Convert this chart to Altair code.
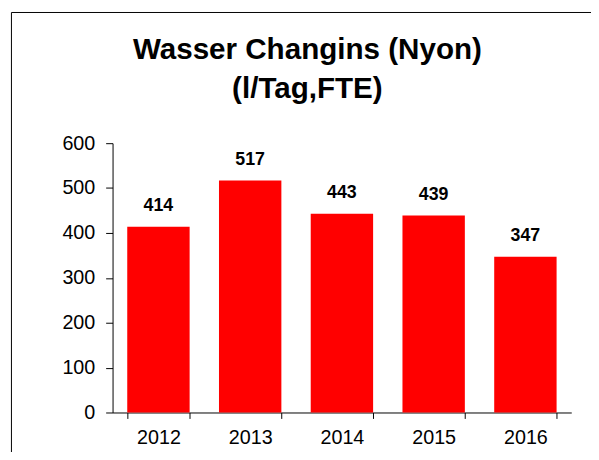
import altair as alt
import pandas as pd

years = ["2012", "2013", "2014", "2015", "2016"]
values = [414, 517, 443, 439, 347]
y_ticks = [0, 100, 200, 300, 400, 500, 600]
title_lines = ["Wasser Changins (Nyon)", "(l/Tag,FTE)"]

df = pd.DataFrame({"year": years, "value": values})
FONT = "Liberation Sans"

x = alt.X(
    "year:N", sort=years, title=None,
    scale=alt.Scale(paddingInner=0.32, paddingOuter=0.16),
    axis=alt.Axis(labelAngle=0, tickBand="extent", tickSize=6, labelFontSize=20,
                  labelFont=FONT, labelColor="black", domainColor="black",
                  tickColor="black", labelPadding=9, domainWidth=1, tickWidth=1),
)
y = alt.Y(
    "value:Q", title=None,
    scale=alt.Scale(domain=[0, 600], nice=False),
    axis=alt.Axis(values=y_ticks, grid=False, tickSize=7, labelPadding=11,
                  labelFontSize=20, labelFont=FONT, labelColor="black",
                  domainColor="black", tickColor="black", domainWidth=1, tickWidth=1),
)

bars = alt.Chart(df).mark_bar(color="#FF0000").encode(x=x, y=y)
labels = alt.Chart(df).mark_text(
    dy=-16, baseline="alphabetic", fontWeight="bold", fontSize=18, font=FONT, color="black"
).encode(x=x, y=y, text="value:Q")

frame_df = pd.DataFrame({"k": [0]})
frame_left = alt.Chart(frame_df).mark_rule(color="black", strokeWidth=1).encode(
    x=alt.value(-102.5), y=alt.value(-132.5), y2=alt.value(400)
)
frame_top = alt.Chart(frame_df).mark_rule(color="black", strokeWidth=1).encode(
    x=alt.value(-102.5), x2=alt.value(600), y=alt.value(-132.5)
)

chart = alt.layer(bars, labels, frame_left, frame_top).properties(
    width=465, height=273,
    autosize=alt.AutoSizeParams(type="none"),
    padding={"left": 106, "top": 134, "right": 20, "bottom": 37},
    title=alt.TitleParams(text=title_lines, fontSize=30, font=FONT, fontWeight="bold",
                          color="black", anchor="middle", dx=-35, offset=0, dy=93,
                          lineHeight=39),
).configure(background="white").configure_view(stroke=None)

chart.save("out.html", embed_options={"renderer": "svg", "actions": False})
